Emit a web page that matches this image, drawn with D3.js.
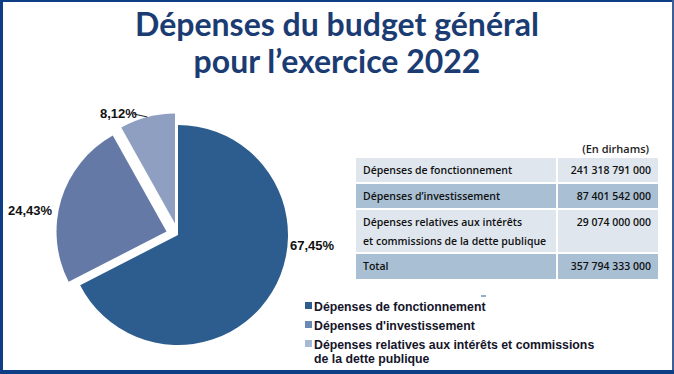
<!DOCTYPE html>
<html>
<head>
<meta charset="utf-8">
<script src="https://cdn.jsdelivr.net/npm/d3@7/dist/d3.min.js"></script>
<style>
  body { margin: 0; background: #fff; }
  svg { display: block; }
</style>
</head>
<body>
<svg id="canvas"></svg>
<script>
// Chart data
var categories = [
  'Dépenses de fonctionnement',
  "Dépenses d'investissement",
  'Dépenses relatives aux intérêts et commissions de la dette publique'
];
var shares = [67.45, 24.43, 8.12];
var shareLabels = ['67,45%', '24,43%', '8,12%'];

// Table data
var tableRows = [
  ['Dépenses de fonctionnement'],
  ["Dépenses d\u2019investissement"],
  ['Dépenses relatives aux intérêts', 'et commissions de la dette publique'],
  ['Total']
];
var tableAmounts = ['241 318 791 000', '87 401 542 000', '29 074 000 000', '357 794 333 000'];

// Legend lines (wrapped like the original)
var legendLines = [
  ['Dépenses de fonctionnement'],
  ["Dépenses d'investissement"],
  ['Dépenses relatives aux intérêts et commissions', 'de la dette publique']
];

var titleLines = ['Dépenses du budget général', 'pour l\u2019exercice 2022'];

var canvasWidth = 674;
var canvasHeight = 374;

var sliceColors = ['#2d5d8e', '#6579a6', '#8f9fc1'];
var legendColors = ['#2d5d8e', '#6a8ab6', '#a7bad3'];
var explode = [0, 12, 12];

var svg = d3.select('#canvas')
  .attr('width', canvasWidth)
  .attr('height', canvasHeight);

// Frame
var frameColor = '#0e3f86';
svg.append('rect').attr('x', 0).attr('y', 0).attr('width', canvasWidth).attr('height', 2).attr('fill', frameColor);
svg.append('rect').attr('x', 0).attr('y', 0).attr('width', 3).attr('height', canvasHeight).attr('fill', frameColor);
svg.append('rect').attr('x', canvasWidth - 2).attr('y', 0).attr('width', 2).attr('height', canvasHeight).attr('fill', '#3d5f98');
svg.append('rect').attr('x', 0).attr('y', canvasHeight - 4).attr('width', canvasWidth).attr('height', 4).attr('fill', frameColor);

// Title
svg.append('g')
  .selectAll('text')
  .data(titleLines)
  .enter()
  .append('text')
  .attr('x', 337)
  .attr('y', function(d, i) { return 36 + i * 37; })
  .attr('text-anchor', 'middle')
  .style('font-family', 'Lato, sans-serif')
  .style('font-weight', 'bold')
  .style('font-size', '32px')
  .attr('fill', '#1b3c73')
  .text(function(d) { return d; });

// Pie
var radius = 110;
var cx = 178, cy = 235;

var pie = d3.pie().sort(null).startAngle(0).endAngle(2 * Math.PI);
var arcs = pie(shares);
var arc = d3.arc().innerRadius(0).outerRadius(radius);

function offset(d, i) {
  var a = (d.startAngle + d.endAngle) / 2;
  return [Math.sin(a) * explode[i], -Math.cos(a) * explode[i]];
}

var pieG = svg.append('g').attr('transform', 'translate(' + cx + ',' + cy + ')');

pieG.selectAll('path')
  .data(arcs)
  .enter()
  .append('path')
  .attr('d', arc)
  .attr('fill', function(d, i) { return sliceColors[i]; })
  .attr('transform', function(d, i) {
    var o = offset(d, i);
    return 'translate(' + o[0] + ',' + o[1] + ')';
  });

// Pie labels, placed by hand like in the source
var labelPos = [[112, 15], [-170, -20], [-78, -117]];
pieG.selectAll('.pct')
  .data(arcs)
  .enter()
  .append('text')
  .attr('class', 'pct')
  .attr('x', function(d, i) { return labelPos[i][0]; })
  .attr('y', function(d, i) { return labelPos[i][1]; })
  .style('font-family', '"Liberation Sans", Arial, sans-serif')
  .style('font-weight', 'bold')
  .style('font-size', '13px')
  .attr('fill', '#111')
  .text(function(d, i) { return shareLabels[i]; });

// Leader line for the small slice
var small = arcs[2];
var smallOff = offset(small, 2);
var leadAngle = small.startAngle + (small.endAngle - small.startAngle) * 0.5;
pieG.append('polyline')
  .attr('points', [
    [-44, -121],
    [smallOff[0] + Math.sin(leadAngle) * radius, smallOff[1] - Math.cos(leadAngle) * radius]
  ].map(function(p) { return p.join(','); }).join(' '))
  .attr('fill', 'none')
  .attr('stroke', '#222')
  .attr('stroke-width', 1);

// Table
var tableX = 356, tableW = 302, splitX = 556;
var rowHeights = [24, 24, 42, 25];
var rowColors = ['#dfe6ee', '#a9c0d4', '#dfe6ee', '#a9c0d4'];
var rowTop = [158];
rowHeights.forEach(function(h, i) { if (i > 0) rowTop.push(rowTop[i - 1] + rowHeights[i - 1] + 2); });

var tableFont = '"Open Sans", sans-serif';

svg.append('text')
  .attr('x', 649)
  .attr('y', 153)
  .attr('text-anchor', 'end')
  .style('font-family', tableFont)
  .style('font-size', '11px')
  .style('font-weight', 600)
  .attr('fill', '#222')
  .text('(En dirhams)');

var rows = svg.append('g')
  .selectAll('g')
  .data(tableRows)
  .enter()
  .append('g')
  .attr('transform', function(d, i) { return 'translate(0,' + rowTop[i] + ')'; });

rows.append('rect')
  .attr('x', tableX)
  .attr('width', splitX - tableX)
  .attr('height', function(d, i) { return rowHeights[i]; })
  .attr('fill', function(d, i) { return rowColors[i]; });

rows.append('rect')
  .attr('x', splitX + 2)
  .attr('width', tableX + tableW - splitX - 2)
  .attr('height', function(d, i) { return rowHeights[i]; })
  .attr('fill', function(d, i) { return rowColors[i]; });

rows.each(function(d, i) {
  var g = d3.select(this);
  g.selectAll('.lab')
    .data(d)
    .enter()
    .append('text')
    .attr('x', 363)
    .attr('y', function(t, j) { return 16 + j * 19; })
    .style('font-family', tableFont)
    .style('font-size', '10.5px')
    .style('font-weight', 600)
    .attr('fill', '#111')
    .text(function(t) { return t; });
  g.append('text')
    .attr('x', 651)
    .attr('y', 16)
    .attr('text-anchor', 'end')
    .style('font-family', tableFont)
    .style('font-size', '10.5px')
    .style('font-weight', 600)
    .attr('fill', '#111')
    .text(tableAmounts[i]);
});

// Legend
var legendTop = [311, 330, 349];
var legend = svg.append('g')
  .selectAll('g')
  .data(categories)
  .enter()
  .append('g')
  .attr('transform', function(d, i) { return 'translate(305,' + legendTop[i] + ')'; });

legend.append('rect')
  .attr('x', 0)
  .attr('y', -9)
  .attr('width', 7)
  .attr('height', 7)
  .attr('fill', function(d, i) { return legendColors[i]; });

legend.each(function(d, i) {
  d3.select(this).selectAll('text')
    .data(legendLines[i])
    .enter()
    .append('text')
    .attr('x', 9)
    .attr('y', function(t, j) { return j * 14; })
    .style('font-family', '"Liberation Sans", Arial, sans-serif')
    .style('font-weight', 'bold')
    .style('font-size', '12.3px')
    .attr('fill', '#15152a')
    .text(function(t) { return t; });
});

// small stray tick above legend
svg.append('line')
  .attr('x1', 481).attr('x2', 486)
  .attr('y1', 296).attr('y2', 296)
  .attr('stroke', '#2d5d8e')
  .attr('stroke-width', 1);
</script>
</body>
</html>
